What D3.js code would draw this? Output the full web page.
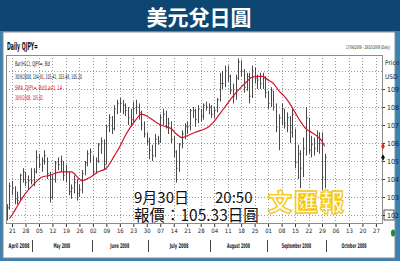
<!DOCTYPE html>
<html>
<head>
<meta charset="utf-8">
<script src="https://cdn.jsdelivr.net/npm/d3@7"></script>
<style>
body { margin: 0; background: #fff; }
svg { display: block; }
.narrow { font-family: "Liberation Sans Narrow", "DejaVu Sans Condensed", "Liberation Sans", sans-serif; }
</style>
</head>
<body>
<script>
// chart data
var title = "美元兌日圓";
var firstDay = "2008-04-17", lastDay = "2008-10-29";
var highs = [102.6,103.8, 103.9,103.6,103.3,104.3,104.6, 104.4,104.2,104.6,104.6,105.6,
  105.4,105.2,105.6,105.2,104.4, 104.2,105.0,105.2,105.3,105.0, 104.8,104.4,103.7,104.2,104.0,
  103.7,104.5,105.0,105.6,105.7, 105.3,105.2,106.0,106.3,106.2, 107.0,107.6,107.5,108.1,108.4,
  108.5,108.4,108.2,108.0,107.9, 108.3,108.4,108.2,107.8,107.2, 106.6,106.3,105.9,106.5,106.4,
  107.6,107.9,107.8,107.4,107.2, 106.4,105.6,106.0,106.7,107.1, 107.2,107.9,108.0,107.9,108.1,
  107.9,108.2,108.3,108.2,108.1, 108.0,108.5,109.9,110.0,110.3, 110.3,109.8,109.3,109.8,110.7,
  110.6,110.1,109.9,109.9,110.3, 110.2,109.8,109.9,109.9,109.7, 108.9,109.1,108.9,108.2,107.6,
  108.2,107.9,107.7,107.5,107.9, 106.8,105.9,105.6,106.3,108.0, 107.4,106.4,106.3,106.7,106.6,
  106.6,105.41];
var lows = [101.7,102.3, 103.1,102.6,102.6,102.8,103.8, 103.6,103.4,103.7,103.6,104.3,
  104.6,104.4,104.8,104.0,102.7, 102.9,103.8,104.5,104.4,103.9, 103.8,103.1,102.9,103.2,102.8,
  103.0,103.2,104.2,104.7,104.9, 104.2,104.3,104.9,105.4,104.5, 104.8,106.6,106.5,106.7,107.6,
  107.7,107.6,107.5,107.0,106.9, 107.1,107.6,107.3,106.7,106.3, 105.9,105.1,105.0,105.2,105.9,
  106.0,107.0,106.8,106.5,106.0, 105.2,103.8,104.4,105.7,106.2, 106.5,106.7,107.4,106.9,107.1,
  107.2,107.3,107.8,107.6,107.4, 107.4,107.7,108.3,109.0,109.1, 109.4,108.7,108.2,108.4,109.5,
  109.7,108.8,108.9,108.2,108.5, 109.3,109.0,109.0,109.0,108.5, 107.9,108.0,107.8,106.6,105.6,
  107.0,106.8,106.6,106.0,106.3, 104.6,104.0,103.5,104.1,105.3, 105.4,105.2,105.3,105.5,105.4,
  103.4,103.48];
var closes = [102.4,103.6, 103.5,102.9,102.8,104.2,104.4, 103.8,103.9,103.9,104.4,105.2,
  104.8,105.0,105.3,104.3,103.0, 104.0,104.9,104.8,105.0,104.2, 104.4,103.3,103.5,103.8,103.2,
  103.4,104.3,104.9,105.4,105.5, 104.4,105.0,105.9,106.1,104.8, 106.9,107.4,106.8,107.9,108.2,
  108.2,108.1,107.8,107.4,107.3, 107.9,108.0,107.7,107.0,106.5, 106.1,105.6,105.3,106.2,106.1,
  107.4,107.6,106.9,107.1,106.2, 105.5,104.6,105.9,106.5,106.9, 106.9,107.8,107.8,107.3,107.9,
  107.5,108.1,108.0,108.0,107.6, 107.8,108.4,109.3,109.3,110.0, 109.7,108.9,108.6,109.6,110.5,
  110.0,109.1,109.7,108.6,110.0, 109.6,109.5,109.3,109.6,108.8, 108.2,108.9,108.0,106.9,107.4,
  107.9,107.1,107.4,106.6,107.6, 104.9,105.4,104.6,105.7,107.4, 105.6,105.9,105.7,106.3,106.0,
  104.1,105.20];
// 14 day moving average, read at some trading days (index from 17 Apr)
var maDays = [1,2,4,7,10,13,16,20,24,27,28,31,34,37,40,42,44,46,48,50,52,54,56,59,61,63,65,67,
  70,72,75,77,79,81,84,87,89,91,93,95,97,99,101,103,105,107,109,111,113,115,117,118];
var maValues = [101.8,102.0,102.5,103.2,103.7,104.1,104.2,104.4,104.4,104.0,103.9,104.1,104.4,
  104.6,105.3,105.8,106.4,106.9,107.3,107.6,107.5,107.3,107.1,106.9,106.8,106.5,106.3,106.4,
  106.6,106.7,106.9,107.2,107.6,108.0,108.6,109.1,109.4,109.65,109.7,109.7,109.5,109.3,108.9,
  108.6,108.2,107.7,107.2,106.8,106.6,106.4,106.1,105.82];
var priceTicks = [102,103,104,105,106,107,108,109];
var months = ["April 2008","May 2008","June 2008","July 2008","August 2008","September 2008","October 2008"];
var legendLines = ["Bar(HLC), QJPY=, Bid", "30/9/2008, 104.91, 105.41, 103.48, 105.20",
  "SMA, QJPY=, Bid(Last), 14", "30/9/2008, 105.82"];
var noteDate = "9月30日", noteTime = "20:50", notePrice = "報價：105.33日圓";
var logo = "文匯報";

var W = 400, H = 261;
var plot = {left: 6, right: 382, top: 55, bottom: 223};

var svg = d3.select("body").append("svg").attr("width", W).attr("height", H);

// frame
svg.append("rect").attr("width", W).attr("height", H).attr("fill", "#3a82b3");
svg.append("rect").attr("width", W).attr("height", 31).attr("fill", "#0d4771");
svg.append("rect").attr("x", 3).attr("y", 32).attr("width", 392).attr("height", 226)
  .attr("fill", "#fff").attr("stroke", "#8a8a8a");
svg.append("text").attr("x", 199).attr("y", 25).attr("text-anchor", "middle")
  .attr("fill", "#fff").attr("font-size", 21).attr("font-weight", 700)
  .attr("font-family", "'Noto Sans CJK TC', sans-serif").text(title);

var parse = d3.timeParse("%Y-%m-%d");
var days = d3.timeDays(parse(firstDay), d3.timeDay.offset(parse(lastDay), 1))
  .filter(function (d) { return d.getDay() !== 0 && d.getDay() !== 6; });

var x = d3.scaleLinear().domain([0, days.length - 1]).range([6.6, 381.3]);
var y = d3.scaleLinear().domain([101.556, 110.889]).range([plot.bottom, plot.top]);
var step = x(1) - x(0);

var mondays = [];
days.forEach(function (d, i) { if (d.getDay() === 1) mondays.push(i); });

// grid
var grid = svg.append("g").attr("stroke", "#9a9a9a").attr("stroke-dasharray", "1,2");
grid.selectAll("line.h").data(priceTicks.concat([110])).enter().append("line")
  .attr("x1", plot.left).attr("x2", plot.right)
  .attr("y1", function (d) { return Math.round(y(d)) + 0.5; })
  .attr("y2", function (d) { return Math.round(y(d)) + 0.5; });
grid.selectAll("line.v").data(mondays).enter().append("line")
  .attr("y1", plot.top).attr("y2", plot.bottom)
  .attr("x1", function (d) { return Math.round(x(d)) + 0.5; })
  .attr("x2", function (d) { return Math.round(x(d)) + 0.5; });

svg.append("rect").attr("x", plot.left + 0.5).attr("y", plot.top + 0.5)
  .attr("width", plot.right - plot.left).attr("height", plot.bottom - plot.top)
  .attr("fill", "none").attr("stroke", "#8c8c8c");

// header texts
svg.append("text").attr("class", "narrow").attr("x", 7).attr("y", 50)
  .attr("font-size", 10).attr("font-weight", 700).attr("fill", "#111")
  .attr("textLength", 31).attr("lengthAdjust", "spacingAndGlyphs").text("Daily QJPY=");
svg.append("text").attr("class", "narrow").attr("x", 346).attr("y", 49)
  .attr("font-size", 5).attr("fill", "#222")
  .attr("textLength", 44).attr("lengthAdjust", "spacingAndGlyphs")
  .text("17/04/2008 - 29/10/2008 (Daily)");

var legendY = [66, 79, 90, 100], legendW = [35, 67, 47, 28];
svg.selectAll("text.legend").data(legendLines).enter().append("text")
  .attr("class", "narrow").attr("x", 15)
  .attr("y", function (d, i) { return legendY[i]; })
  .attr("font-size", 6.5)
  .attr("fill", function (d, i) { return i < 2 ? "#222" : "#d0102a"; })
  .attr("textLength", function (d, i) { return legendW[i]; })
  .attr("lengthAdjust", "spacingAndGlyphs")
  .text(function (d) { return d; });

// HLC bars
var bars = svg.append("g").attr("stroke", "#4a4a4a").attr("stroke-width", 1);
bars.selectAll("line.bar").data(highs).enter().append("line")
  .attr("x1", function (d, i) { return Math.round(x(i)) + 0.5; })
  .attr("x2", function (d, i) { return Math.round(x(i)) + 0.5; })
  .attr("y1", function (d) { return y(d); })
  .attr("y2", function (d, i) { return y(lows[i]); });
bars.selectAll("line.close").data(closes).enter().append("line")
  .attr("x1", function (d, i) { return Math.round(x(i)) + 0.5; })
  .attr("x2", function (d, i) { return Math.round(x(i)) + 1.7; })
  .attr("y1", function (d) { return y(d); })
  .attr("y2", function (d) { return y(d); });

// moving average
var ma = maDays.map(function (d, i) { return [d, maValues[i]]; });
svg.append("path").datum(ma)
  .attr("fill", "none").attr("stroke", "#d3122c").attr("stroke-width", 1.2)
  .attr("d", d3.line().x(function (d) { return x(d[0]); }).y(function (d) { return y(d[1]); })
    .curve(d3.curveMonotoneX));

// right axis
var yAxis = svg.append("g").attr("class", "narrow")
  .attr("transform", "translate(" + (plot.right + 1) + ",0)")
  .call(d3.axisRight(y).tickValues(priceTicks).tickSize(2).tickPadding(2)
    .tickFormat(d3.format("d")));
yAxis.select(".domain").remove();
yAxis.selectAll("text").attr("font-size", 7).attr("fill", "#222")
  .attr("font-family", "'Liberation Sans Narrow','DejaVu Sans Condensed',sans-serif");
yAxis.selectAll("line").attr("stroke", "#333");
svg.append("rect").attr("x", 384).attr("y", y(102) - 5).attr("width", 10).attr("height", 10)
  .attr("fill", "none").attr("stroke", "#333").attr("stroke-width", 0.8);
svg.append("text").attr("class", "narrow").attr("x", 385).attr("y", 65)
  .attr("font-size", 6.5).attr("fill", "#222").text("Price");
svg.append("text").attr("class", "narrow").attr("x", 385).attr("y", 79)
  .attr("font-size", 6.5).attr("fill", "#222").text("USD");

// last value markers
svg.append("path").attr("d", d3.symbol().type(d3.symbolDiamond).size(12)())
  .attr("transform", "translate(383," + y(maValues[maValues.length - 1]) + ")")
  .attr("fill", "#e8261e");
svg.append("path").attr("d", d3.symbol().type(d3.symbolDiamond).size(12)())
  .attr("transform", "translate(383," + y(closes[closes.length - 1]) + ")")
  .attr("fill", "#111");

// bottom axis
var fmtDay = d3.timeFormat("%d");
var xAxis = svg.append("g")
  .attr("transform", "translate(0," + (plot.bottom + 1) + ")")
  .call(d3.axisBottom(x).tickValues(mondays).tickSize(3).tickPadding(2)
    .tickFormat(function (i) { return fmtDay(days[i]); }));
xAxis.select(".domain").remove();
xAxis.selectAll("line").attr("stroke", "#333");
xAxis.selectAll("text").attr("font-size", 6).attr("fill", "#222")
  .attr("font-family", "'Liberation Sans Narrow','DejaVu Sans Condensed',sans-serif");

// month labels and separators
var monthStart = [];
days.forEach(function (d, i) {
  if (i === 0 || d.getMonth() !== days[i - 1].getMonth()) monthStart.push(i);
});
svg.selectAll("line.sep").data(monthStart.slice(1)).enter().append("line")
  .attr("x1", function (d) { return Math.round(x(d) - step / 2) + 0.5; })
  .attr("x2", function (d) { return Math.round(x(d) - step / 2) + 0.5; })
  .attr("y1", 240).attr("y2", 252).attr("stroke", "#444");
svg.selectAll("text.month").data(months).enter().append("text")
  .attr("class", "narrow")
  .attr("x", function (d, i) {
    var a = i === 0 ? plot.left : x(monthStart[i]) - step / 2;
    var b = i + 1 < monthStart.length ? x(monthStart[i + 1]) - step / 2 : plot.right;
    return (a + b) / 2;
  })
  .attr("y", 248).attr("text-anchor", "middle")
  .attr("font-size", 6.5).attr("font-weight", 700).attr("fill", "#222")
  .attr("textLength", function (d) { return d.length * 2.1; })
  .attr("lengthAdjust", "spacingAndGlyphs")
  .text(function (d) { return d; });

svg.append("ellipse").attr("cx", 393).attr("cy", 233).attr("rx", 2).attr("ry", 3.5)
  .attr("fill", "#1f8a2e");

// overlay note
var cjk = "'Noto Sans CJK TC', sans-serif";
svg.append("text").attr("x", 134).attr("y", 203).attr("font-size", 15)
  .attr("font-family", cjk).attr("fill", "#111").text(noteDate);
svg.append("text").attr("x", 215).attr("y", 203).attr("font-size", 15)
  .attr("font-family", cjk).attr("fill", "#111").text(noteTime);
svg.append("text").attr("x", 134).attr("y", 221).attr("font-size", 15.5)
  .attr("font-family", cjk).attr("fill", "#111").text(notePrice);
svg.append("text").attr("x", 268).attr("y", 211).attr("font-size", 24)
  .attr("font-weight", 900).attr("letter-spacing", 2)
  .attr("font-family", cjk).attr("fill", "#fffbe6")
  .attr("stroke", "#f2c81a").attr("stroke-width", 1.3).text(logo);
</script>
</body>
</html>
